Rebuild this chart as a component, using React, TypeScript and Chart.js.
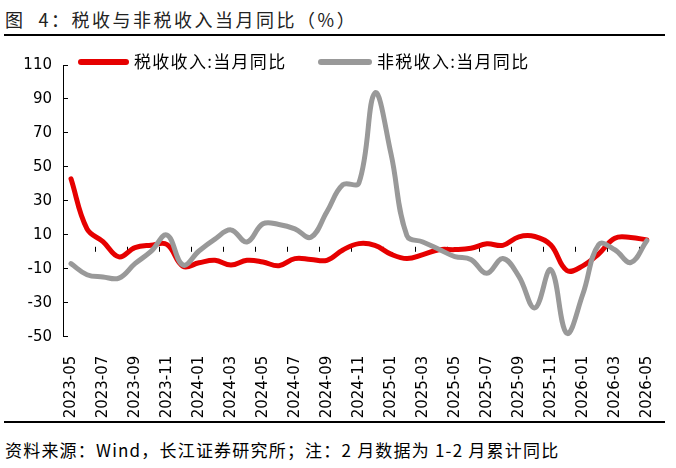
import { useEffect, useRef } from 'react';
import Chart from 'chart.js/auto';

const months = [
  '2023-05', '2023-06', '2023-07', '2023-08', '2023-09', '2023-10', '2023-11', '2023-12',
  '2024-01', '2024-02', '2024-03', '2024-04', '2024-05', '2024-06', '2024-07', '2024-08',
  '2024-09', '2024-10', '2024-11', '2024-12', '2025-01', '2025-02', '2025-03', '2025-04',
  '2025-05', '2025-06', '2025-07', '2025-08', '2025-09', '2025-10', '2025-11', '2025-12',
  '2026-01', '2026-02', '2026-03', '2026-04', '2026-05',
];

// 税收收入:当月同比
const taxYoY = [
  43, 13.5, 6, -3, 2.5, 3.9, 4.3, -8.5,
  -6.5, -5, -7.8, -5, -6, -8.2, -4, -4.5,
  -5, 1.1, 4.8, 3.8, -1.4, -4, -1.7, 1.2,
  1.3, 2.1, 4.7, 3.8, 8.8, 9, 4, -11,
  -8.3, -1.2, 8, 8.4, 7,
];

// 非税收入:当月同比
const nonTaxYoY = [
  -7, -13.5, -14.8, -15.5, -7, 0.2, 9.9, -7.8,
  0.5, 7.5, 12.9, 5.8, 16.5, 16.1, 13.5, 8.6,
  23.6, 39.5, 40.5, 93.5, 58, 9.5, 5.8, 1.5,
  -2.8, -4.5, -12.7, -4, -14.5, -33, -10.5, -48,
  -25, 4.3, 1.2, -6.3, 6.5,
];

const seriesNames = ['税收收入:当月同比', '非税收入:当月同比'];
const seriesColors = ['#e60000', '#999999'];

const yMin = -50;
const yMax = 110;
const yStep = 20;

const tickFont = { family: 'DejaVu Sans', size: 15 };
const cjkFont = '"Noto Sans CJK SC", "Noto Sans", sans-serif';

// small upward ticks on the zero line, between every other month
const zeroLineTicks = {
  id: 'zeroLineTicks',
  beforeDatasetsDraw(chart: Chart) {
    const xs = chart.scales.x;
    const ys = chart.scales.y;
    const y0 = ys.getPixelForValue(0);
    const half = (xs.getPixelForValue(1) - xs.getPixelForValue(0)) / 2;
    const ctx = chart.ctx;
    ctx.save();
    ctx.strokeStyle = '#000';
    ctx.lineWidth = 1;
    ctx.beginPath();
    months.forEach((_, i) => {
      if (i === 0 || i % 2) return;
      const px = Math.round(xs.getPixelForValue(i) - half) + 0.5;
      ctx.moveTo(px, y0);
      ctx.lineTo(px, y0 - 5);
    });
    ctx.stroke();
    ctx.restore();
  },
};

function RevenueChart() {
  const canvasRef = useRef<HTMLCanvasElement>(null);

  useEffect(() => {
    const canvas = canvasRef.current;
    if (!canvas) return;

    const chart = new Chart(canvas, {
      type: 'line',
      data: {
        labels: months,
        datasets: [
          {
            label: seriesNames[0],
            data: taxYoY,
            borderColor: seriesColors[0],
            backgroundColor: seriesColors[0],
            borderWidth: 5,
            pointRadius: 0,
            tension: 0.4,
            borderCapStyle: 'round',
            borderJoinStyle: 'round',
            order: 1,
          },
          {
            label: seriesNames[1],
            data: nonTaxYoY,
            borderColor: seriesColors[1],
            backgroundColor: seriesColors[1],
            borderWidth: 5,
            pointRadius: 0,
            tension: 0.4,
            borderCapStyle: 'round',
            borderJoinStyle: 'round',
            order: 0,
          },
        ],
      },
      options: {
        responsive: true,
        maintainAspectRatio: false,
        animation: false,
        layout: { padding: { top: 12, right: 16, bottom: 0, left: 0 } },
        plugins: {
          legend: { display: false },
          tooltip: { enabled: false },
        },
        scales: {
          x: {
            offset: true,
            grid: { display: false, offset: true },
            border: { display: false },
            ticks: {
              autoSkip: false,
              maxRotation: 90,
              minRotation: 90,
              padding: 11,
              color: '#000',
              font: tickFont,
              callback: (_v, i) => (i % 2 === 0 ? months[i] : ''),
            },
            afterFit: (s) => {
              s.height = 83.3;
            },
          },
          y: {
            min: yMin,
            max: yMax,
            ticks: { stepSize: yStep, padding: 16, color: '#000', font: tickFont },
            grid: {
              color: (c) => (c.tick && c.tick.value === 0 ? '#000' : 'rgba(0,0,0,0)'),
              tickColor: '#000',
              tickLength: -5,
              lineWidth: 1,
            },
            border: { color: '#000', width: 1 },
            afterFit: (s) => {
              s.width = 63;
            },
          },
        },
      },
      plugins: [zeroLineTicks],
    });

    return () => chart.destroy();
  }, []);

  return (
    <div style={{ position: 'absolute', left: 0, top: 40, width: 676, height: 380 }}>
      <canvas ref={canvasRef} />
    </div>
  );
}

export default function App() {
  const legendPos = [
    { line: 78, width: 51, text: 134 },
    { line: 318, width: 54, text: 377 },
  ];

  return (
    <div
      style={{
        position: 'fixed',
        left: 0,
        top: 0,
        width: 676,
        height: 468,
        background: '#fff',
        fontFamily: cjkFont,
        color: '#000',
      }}
    >
      <div
        style={{
          position: 'absolute',
          left: 5,
          top: 6,
          fontSize: 18,
          lineHeight: '26px',
          letterSpacing: 2.5,
          whiteSpace: 'pre',
          color: '#222',
        }}
      >
        {'图  4：税收与非税收入当月同比（%）'}
      </div>
      <div style={{ position: 'absolute', left: 4, top: 34, width: 661, height: 2, background: '#000' }} />

      <RevenueChart />

      {seriesNames.map((name, i) => (
        <div key={name}>
          <div
            style={{
              position: 'absolute',
              left: legendPos[i].line,
              top: 59,
              width: legendPos[i].width,
              height: 6,
              borderRadius: 3,
              background: seriesColors[i],
            }}
          />
          <div
            style={{
              position: 'absolute',
              left: legendPos[i].text,
              top: 49,
              fontSize: 17,
              lineHeight: '24px',
              letterSpacing: 1.3,
              whiteSpace: 'nowrap',
            }}
          >
            {name}
          </div>
        </div>
      ))}

      <div style={{ position: 'absolute', left: 4, top: 421, width: 661, height: 2, background: '#000' }} />
      <div
        style={{
          position: 'absolute',
          left: 5,
          top: 437,
          fontSize: 17,
          lineHeight: '26px',
          letterSpacing: 1.2,
          whiteSpace: 'nowrap',
        }}
      >
        资料来源：Wind，长江证券研究所；注：2 月数据为 1-2 月累计同比
      </div>
    </div>
  );
}
